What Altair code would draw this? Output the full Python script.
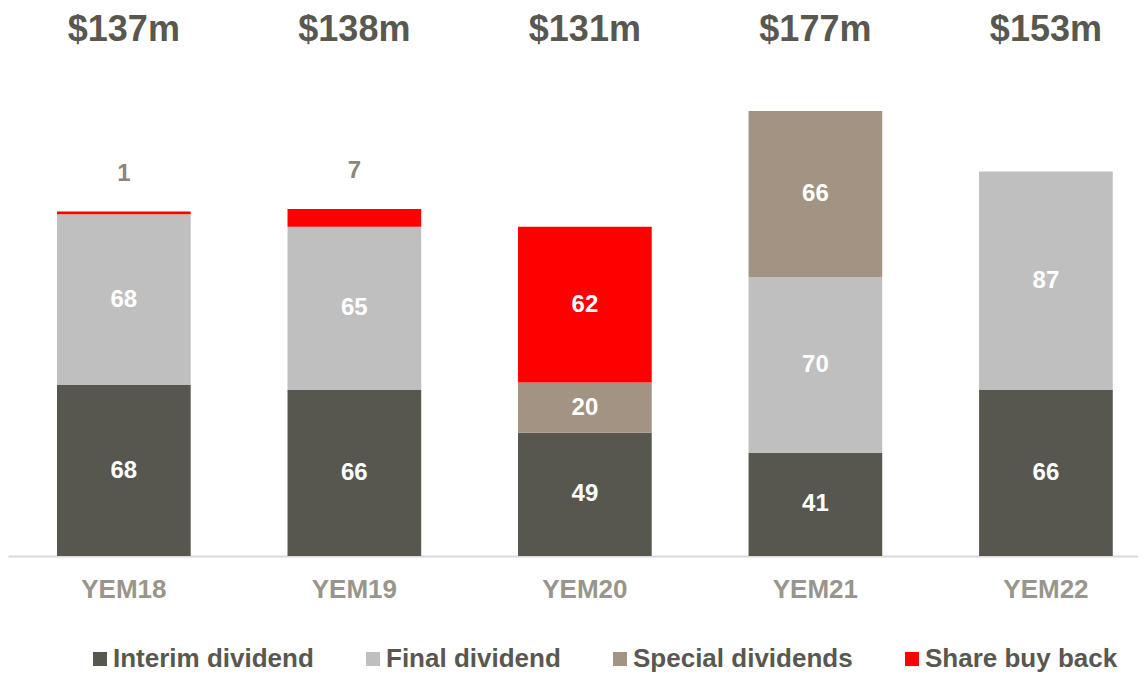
import altair as alt
import pandas as pd

years = ["YEM18", "YEM19", "YEM20", "YEM21", "YEM22"]
series = ["Interim dividend", "Final dividend", "Special dividends", "Share buy back"]
interim = [68, 66, 49, 41, 66]
final = [68, 65, 0, 70, 87]
special = [0, 0, 20, 66, 0]
buyback = [1, 7, 62, 0, 0]
colors = ["#57574f", "#bfbfbf", "#a29383", "#ff0000"]

rows = []
for i, yr in enumerate(years):
    for j, (s, vals) in enumerate(zip(series, [interim, final, special, buyback])):
        if vals[i] > 0:
            rows.append(dict(year=yr, series=s, value=vals[i], order=j))
df = pd.DataFrame(rows)

FONT = "Liberation Sans"

xenc = alt.X(
    "year:N",
    sort=years,
    scale=alt.Scale(paddingInner=0.42, paddingOuter=0.161, align=0.66),
    axis=alt.Axis(
        title=None, ticks=False, domainColor="#d9d9d9", domainWidth=2,
        labelFont=FONT, labelFontSize=26, labelFontWeight="bold",
        labelColor="#9a958c", labelPadding=20, labelAngle=0,
    ),
)
yscale = alt.Scale(domain=[0, 218], nice=False, zero=True)

base = alt.Chart(df).transform_stack(
    stack="value", as_=["y0", "y1"], groupby=["year"], sort=[alt.SortField("order")]
)

bars = base.mark_bar().encode(
    x=xenc,
    y=alt.Y("y0:Q", scale=yscale, axis=None),
    y2="y1:Q",
    color=alt.Color(
        "series:N",
        scale=alt.Scale(domain=series, range=colors),
        legend=alt.Legend(
            title=None, orient="none", legendX=79, legendY=638,
            direction="horizontal", columns=4, columnPadding=46,
            symbolType="square", symbolSize=196, symbolStrokeWidth=0,
            labelFont=FONT, labelFontSize=26, labelFontWeight="bold",
            labelColor="#595850", labelOffset=0, padding=0, labelLimit=500,
        ),
    ),
)

inside = base.transform_filter("datum.value >= 10").transform_calculate(
    mid="(datum.y0 + datum.y1) / 2"
).mark_text(
    font=FONT, fontSize=24, fontWeight="bold", color="white", baseline="middle"
).encode(x=xenc, y=alt.Y("mid:Q", scale=yscale), text="value:Q")

above = base.transform_filter("datum.value < 10").mark_text(
    font=FONT, fontSize=24, fontWeight="bold", color="#8c8679",
    baseline="middle", dy=-38,
).encode(x=xenc, y=alt.Y("y1:Q", scale=yscale), text="value:Q")

totals = alt.Chart(df).transform_aggregate(
    total="sum(value)", groupby=["year"]
).transform_calculate(label='"$" + datum.total + "m"').mark_text(
    font=FONT, fontSize=36, fontWeight="bold", color="#595850", baseline="middle"
).encode(x=xenc, y=alt.value(22), text="label:N")

chart = alt.layer(bars, inside, above, totals).properties(
    width=1130, height=548,
    autosize=alt.AutoSizeParams(type="none"),
    padding={"left": 0, "top": 0, "right": 0, "bottom": 116},
).configure_view(stroke=None)

chart.save("out.html", embed_options={"renderer": "svg", "actions": False})
